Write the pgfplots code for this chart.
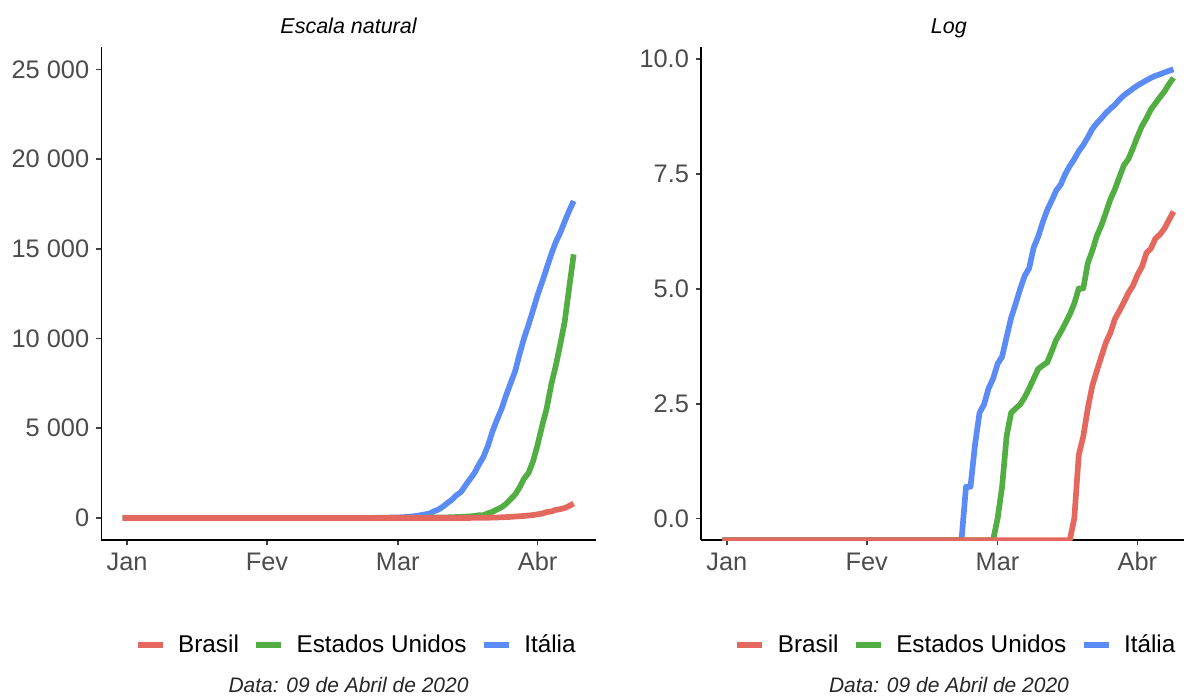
\documentclass[border=0pt]{standalone}
\usepackage{fontspec}
\setmainfont{Liberation Sans}
\usepackage{pgfplots}
\usepackage{pgfplotstable}
\pgfplotsset{compat=1.18}

\definecolor{cbr}{HTML}{E5685E}
\definecolor{cus}{HTML}{52AE43}
\definecolor{cit}{HTML}{5B8CF6}

% day index: 0 = 1 Jan 2020 ; cumulative deaths
\pgfplotstableread{
d n
-1 0
52 0
53 2
54 2
55 5
56 10
57 12
58 17
59 21
60 29
61 34
62 52
63 79
64 107
65 148
66 197
67 233
68 366
69 463
70 631
71 827
72 1016
73 1266
74 1441
75 1809
76 2158
77 2503
78 2978
79 3405
80 4032
81 4825
82 5476
83 6077
84 6820
85 7503
86 8165
87 9134
88 10023
89 10779
90 11591
91 12428
92 13155
93 13915
94 14681
95 15362
96 15887
97 16523
98 17127
99 17669
}\italia

\pgfplotstableread{
d n
-1 0
59 0
60 1
61 2
62 6
63 10
64 11
65 12
66 14
67 17
68 21
69 26
70 28
71 30
72 38
73 49
74 58
75 70
76 85
77 108
78 150
79 150
80 260
81 340
82 471
83 590
84 780
85 1041
86 1298
87 1695
88 2191
89 2509
90 3167
91 4080
92 5137
93 6088
94 7402
95 8458
96 9646
97 10935
98 12841
99 14695
}\eua

\pgfplotstableread{
d n
-1 0
76 0
77 1
78 4
79 6
80 11
81 18
82 25
83 34
84 46
85 57
86 77
87 92
88 111
89 136
90 159
91 201
92 240
93 324
94 359
95 445
96 486
97 553
98 667
99 800
}\brasil

\newcommand\tickfont{\fontsize{12.7}{15}\selectfont}
\newcommand\legfont{\fontsize{12.15}{14}\selectfont}
\newcommand\titfont{\fontsize{10.75}{13}\selectfont\itshape}
\newcommand\capfont{\fontsize{10.5}{12}\selectfont\itshape}

\pgfplotsset{
  panel/.style={
    scale only axis, height=247pt,
    anchor=south west,
    clip mode=individual,
    axis x line=bottom, axis y line=left,
    axis line style={-, black, line width=0.9pt},
    tick align=outside, major tick length=2.6pt,
    tick style={black!75, line width=0.8pt},
    tick label style={font=\tickfont, text=black!70},
    scaled y ticks=false, scaled x ticks=false,
    /pgf/number format/assume math mode=true,
    xmin=-5.7,
    xtick={0,31,60,91}, xticklabels={Jan,Fev,Mar,Abr},
    legend columns=3,
    legend image code/.code={\draw[##1] (0pt,0pt) -- (12.5pt,0pt);},
    legend style={draw=none, fill=none, anchor=center,
      inner sep=0pt, outer sep=0pt,
      nodes={inner sep=0pt, font=\legfont, text=black},
      /tikz/every odd column/.append style={column sep=6.3pt},
      /tikz/every even column/.append style={column sep=7.2pt}},
  },
  ln/.style={line width=2.85pt, line join=round, forget plot},
}

\begin{document}
\begin{tikzpicture}
\path (0pt,0pt) rectangle (592.5pt,347.5pt);

\begin{axis}[panel, at={(50.75pt,77.15pt)}, width=247.6pt, xmax=104,
  legend style={at={(0.513,-0.2128)}},
  ymin=-1248, ymax=26273,
  ytick={0,5000,10000,15000,20000,25000},
  yticklabels={0,5 000,10 000,15 000,20 000,25 000}]
\addlegendimage{color=cbr, line width=2.85pt}\addlegendentry{Brasil}
\addlegendimage{color=cus, line width=2.85pt}\addlegendentry{Estados Unidos}
\addlegendimage{color=cit, line width=2.85pt}\addlegendentry{Itália}
\addplot[ln, cit] table[x=d, y=n] {\italia};
\addplot[ln, cus] table[x=d, y=n] {\eua};
\addplot[ln, cbr] table[x=d, y=n] {\brasil};
\node[font=\titfont, anchor=base] at (axis description cs:0.4994,1.0257) {Escala natural};
\node[font=\capfont, anchor=base, text=black!85] at (axis description cs:0.4994,-0.3087) {Data: 09 de Abril de 2020};
\end{axis}

\begin{axis}[panel, at={(350.85pt,77.15pt)}, width=241.65pt, xmax=101.35,
  legend style={at={(0.5255,-0.2128)}},
  ymin=-0.472, ymax=10.274,
  ytick={0,2.5,5,7.5,10},
  yticklabels={0.0,2.5,5.0,7.5,10.0}]
\addlegendimage{color=cbr, line width=2.85pt}\addlegendentry{Brasil}
\addlegendimage{color=cus, line width=2.85pt}\addlegendentry{Estados Unidos}
\addlegendimage{color=cit, line width=2.85pt}\addlegendentry{Itália}
\addplot[ln, cit] table[x=d, y expr={max(ln(max(\thisrow{n},0.001)),-0.472)}] {\italia};
\addplot[ln, cus] table[x=d, y expr={max(ln(max(\thisrow{n},0.001)),-0.472)}] {\eua};
\addplot[ln, cbr] table[x=d, y expr={max(ln(max(\thisrow{n},0.001)),-0.472)}] {\brasil};
\node[font=\titfont, anchor=base] at (axis description cs:0.5127,1.0257) {Log};
\node[font=\capfont, anchor=base, text=black!85] at (axis description cs:0.5131,-0.3087) {Data: 09 de Abril de 2020};
\end{axis}
\end{tikzpicture}
\end{document}
